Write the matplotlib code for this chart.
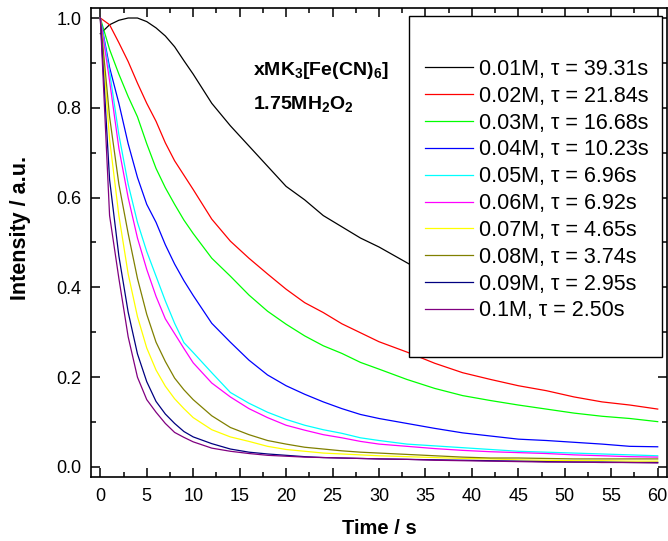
import numpy as np
import matplotlib
matplotlib.use('Agg')
import matplotlib.pyplot as plt
from matplotlib.patches import Rectangle
from matplotlib.ticker import MultipleLocator

plt.rcParams['font.family'] = ['Liberation Sans', 'DejaVu Sans']
plt.rcParams['mathtext.fontset'] = 'custom'
plt.rcParams['mathtext.rm'] = 'Liberation Sans'
plt.rcParams['mathtext.bf'] = 'Liberation Sans:bold'

# time grid (s)
t = [0, 1, 2, 3, 4, 5, 6, 7, 8, 9, 10, 12, 14, 16, 18, 20, 22, 24, 26, 28, 30,
     33, 36, 39, 42, 45, 48, 51, 54, 57, 60]

c001 = [0.965, 0.985, 0.995, 1.0, 1.0, 0.992, 0.978, 0.96, 0.936, 0.905, 0.875, 0.81, 0.76, 0.715, 0.67, 0.625,
        0.595, 0.56, 0.535, 0.51, 0.49, 0.455, 0.42, 0.39, 0.365, 0.34, 0.32, 0.30, 0.285, 0.27, 0.26]
c002 = [1.0, 0.985, 0.945, 0.903, 0.855, 0.81, 0.77, 0.722, 0.682, 0.65, 0.618, 0.552, 0.503, 0.465, 0.43, 0.396,
        0.366, 0.344, 0.319, 0.299, 0.279, 0.256, 0.231, 0.21, 0.195, 0.181, 0.17, 0.156, 0.145, 0.138, 0.129]
c003 = [1.0, 0.93, 0.875, 0.825, 0.78, 0.72, 0.665, 0.622, 0.585, 0.55, 0.52, 0.465, 0.425, 0.383, 0.347, 0.318,
        0.292, 0.27, 0.253, 0.233, 0.218, 0.195, 0.175, 0.159, 0.148, 0.138, 0.129, 0.12, 0.113, 0.108, 0.101]
c004 = [1.0, 0.89, 0.81, 0.72, 0.645, 0.585, 0.545, 0.495, 0.452, 0.415, 0.382, 0.32, 0.278, 0.238, 0.205, 0.181,
        0.162, 0.145, 0.13, 0.117, 0.108, 0.097, 0.086, 0.076, 0.069, 0.062, 0.059, 0.055, 0.051, 0.046, 0.045]
c005 = [1.0, 0.88, 0.74, 0.63, 0.545, 0.48, 0.425, 0.37, 0.32, 0.277, 0.255, 0.21, 0.166, 0.142, 0.122, 0.106,
        0.093, 0.083, 0.075, 0.065, 0.059, 0.051, 0.047, 0.043, 0.039, 0.035, 0.033, 0.031, 0.029, 0.027, 0.025]
c006 = [1.0, 0.86, 0.71, 0.60, 0.51, 0.44, 0.38, 0.33, 0.297, 0.264, 0.232, 0.187, 0.156, 0.13, 0.11, 0.093,
        0.082, 0.072, 0.065, 0.057, 0.051, 0.046, 0.041, 0.037, 0.034, 0.032, 0.030, 0.027, 0.025, 0.023, 0.022]
c007 = [1.0, 0.73, 0.56, 0.43, 0.335, 0.265, 0.216, 0.18, 0.152, 0.13, 0.11, 0.083, 0.067, 0.057, 0.046, 0.039,
        0.035, 0.031, 0.029, 0.027, 0.025, 0.023, 0.021, 0.019, 0.018, 0.016, 0.015, 0.014, 0.014, 0.013, 0.013]
c008 = [1.0, 0.78, 0.63, 0.52, 0.42, 0.34, 0.278, 0.235, 0.198, 0.172, 0.15, 0.114, 0.088, 0.072, 0.059, 0.051,
        0.044, 0.04, 0.036, 0.033, 0.031, 0.028, 0.025, 0.022, 0.020, 0.020, 0.019, 0.018, 0.018, 0.018, 0.018]
c009 = [1.0, 0.64, 0.47, 0.345, 0.252, 0.19, 0.146, 0.118, 0.097, 0.079, 0.067, 0.052, 0.040, 0.033, 0.029, 0.026,
        0.023, 0.021, 0.020, 0.019, 0.018, 0.017, 0.016, 0.015, 0.014, 0.013, 0.012, 0.011, 0.011, 0.010, 0.010]
c010 = [1.0, 0.56, 0.42, 0.29, 0.20, 0.15, 0.122, 0.097, 0.077, 0.066, 0.056, 0.042, 0.035, 0.030, 0.026, 0.024,
        0.022, 0.021, 0.020, 0.019, 0.018, 0.017, 0.015, 0.014, 0.013, 0.012, 0.011, 0.011, 0.010, 0.010, 0.009]

series = [c001, c002, c003, c004, c005, c006, c007, c008, c009, c010]
labels = ['0.01M, \u03c4 = 39.31s', '0.02M, \u03c4 = 21.84s', '0.03M, \u03c4 = 16.68s',
          '0.04M, \u03c4 = 10.23s', '0.05M, \u03c4 = 6.96s', '0.06M, \u03c4 = 6.92s',
          '0.07M, \u03c4 = 4.65s', '0.08M, \u03c4 = 3.74s', '0.09M, \u03c4 = 2.95s',
          '0.1M, \u03c4 = 2.50s']
colors = ['#000000', '#FF0000', '#00FF00', '#0000FF', '#00FFFF',
          '#FF00FF', '#FFFF00', '#808000', '#000080', '#800080']

fig = plt.figure(figsize=(6.68, 5.41), dpi=100)
ax = fig.add_axes([91/668, 1 - 477/541, 576/668, 469/541])

for y, lab, col in zip(series, labels, colors):
    ax.plot(t, y, color=col, lw=0.9, label=lab)

ax.set_xlim(-1, 61)
ax.set_ylim(-0.0223, 1.0223)
ax.xaxis.set_major_locator(MultipleLocator(5))
ax.xaxis.set_minor_locator(MultipleLocator(2.5))
ax.yaxis.set_major_locator(MultipleLocator(0.2))
ax.yaxis.set_minor_locator(MultipleLocator(0.1))
ax.yaxis.set_major_formatter(plt.FormatStrFormatter('%.1f'))
ax.tick_params(which='both', direction='in', top=True, right=True, width=1.1, labelsize=13)
ax.tick_params(which='major', length=6.5)
ax.tick_params(which='minor', length=3.5)
ax.tick_params(axis='y', which='major', pad=7)
ax.tick_params(axis='x', which='major', pad=8)
for s in ax.spines.values():
    s.set_linewidth(1.2)

ax.set_xlabel('Time / s', fontsize=14.5, fontweight='bold')
ax.xaxis.set_label_coords(0.5, -0.089)
ax.set_ylabel('Intensity / a.u.', fontsize=15.5, fontweight='bold')
ax.yaxis.set_label_coords(-0.104, 0.531)

ax.text(0.281, 0.857, r'$\mathbf{xMK_3[Fe(CN)_6]}$', transform=ax.transAxes, fontsize=14)
ax.text(0.281, 0.785, r'$\mathbf{1.75MH_2O_2}$', transform=ax.transAxes, fontsize=14)

# legend frame drawn separately to get Origin-like padding
box = Rectangle((0.552, 0.256), 0.439, 0.727, transform=ax.transAxes,
                facecolor='white', edgecolor='black', lw=1.0, zorder=5)
ax.add_patch(box)
leg = ax.legend(loc='upper left', bbox_to_anchor=(0.579, 0.8912), frameon=False,
                fontsize=15.5, handlelength=2.23, handletextpad=0.28,
                labelspacing=0.27, borderpad=0, borderaxespad=0)
leg.set_zorder(6)

plt.savefig('out.png', dpi=100)
